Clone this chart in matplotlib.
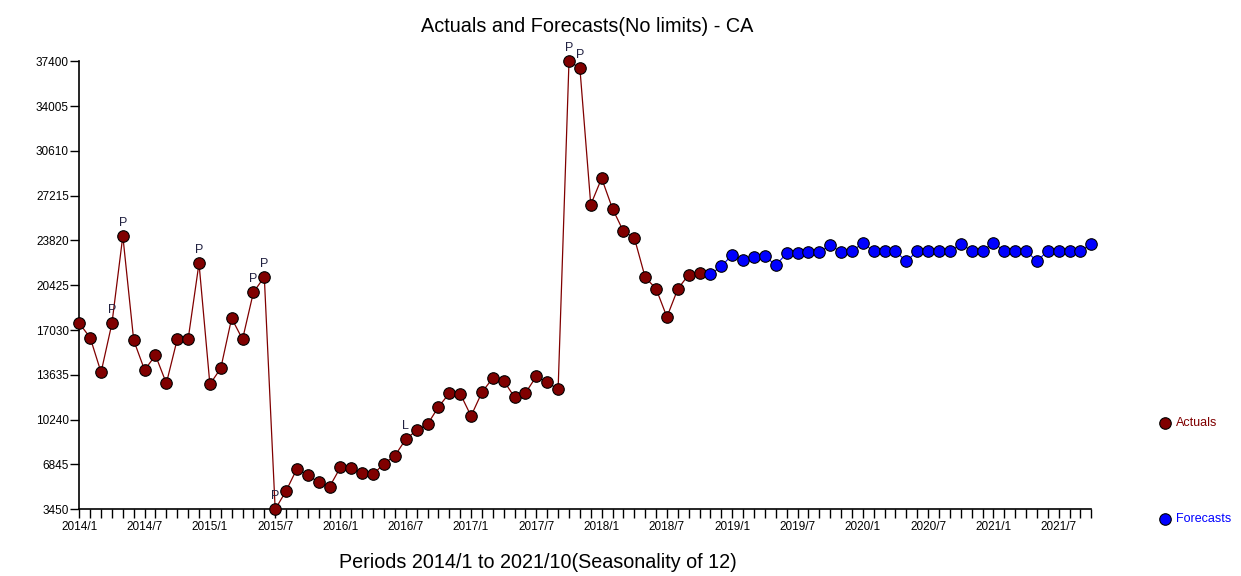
import numpy as np
import matplotlib
matplotlib.use('Agg')
import matplotlib.pyplot as plt

plt.rcParams['font.family'] = ['Liberation Sans', 'DejaVu Sans']

# Monthly periods 2014/1 .. 2021/10
start_year = 2014
n_periods = 94
periods = ['%d/%d' % (start_year + i // 12, i % 12 + 1) for i in range(n_periods)]

# Actuals 2014/1 .. 2018/10
actuals = [17545, 16454, 13832, 17545, 24161, 16257, 14006, 15120, 12998, 16333,
           16333, 22092, 12923, 14135, 17924, 16333, 19894, 21054, 3450, 4837,
           6527, 6027, 5496, 5163, 6633, 6557, 6178, 6102, 6906, 7512,
           8755, 9437, 9891, 11202, 12240, 12215, 10520, 12316, 13400, 13195,
           11937, 12263, 13529, 13074, 12544, 37400, 36892, 26533, 28533, 26229,
           24517, 24032, 21031, 20167, 18023, 20144, 21228, 21334]

# Forecasts 2018/11 .. 2021/10
forecasts = [21258, 21865, 22744, 22365, 22569, 22645, 21940, 22850, 22873, 22925,
             22925, 23479, 22950, 23001, 23630, 23001, 23001, 23001, 22243, 23001,
             23001, 23001, 23001, 23554, 23047, 23047, 23630, 23047, 23047, 23047,
             22243, 23047, 23047, 23047, 23047, 23554]

# point flags (index into actuals, letter)
flag_idx = [3, 4, 11, 16, 17, 18, 30, 45, 46]
flag_txt = ['P', 'P', 'P', 'P', 'P', 'P', 'L', 'P', 'P']

y_ticks = [3450, 6845, 10240, 13635, 17030, 20425, 23820, 27215, 30610, 34005, 37400]


def main():
    fig = plt.figure(figsize=(12.41, 5.76), dpi=100)
    ax = fig.add_axes([0.0639, 0.1158, 0.8155, 0.7778])

    x_act = np.arange(len(actuals))
    x_fc = np.arange(len(actuals), len(actuals) + len(forecasts))

    ax.plot(x_act, actuals, color='#800000', linewidth=0.9, marker='o', markersize=8.3,
            markerfacecolor='#800000', markeredgecolor='black', markeredgewidth=0.8,
            clip_on=False, zorder=3)
    ax.plot(x_fc, forecasts, color='#0000ff', linewidth=0.8, marker='o', markersize=8.3,
            markerfacecolor='#0000ff', markeredgecolor='black', markeredgewidth=0.8,
            clip_on=False, zorder=3)

    for i, t in zip(flag_idx, flag_txt):
        ax.annotate(t, (i, actuals[i]), xytext=(0, 5), textcoords='offset points',
                    ha='center', va='bottom', fontsize=9, color='#202040')

    ax.set_xlim(0, n_periods - 1)
    ax.set_ylim(y_ticks[0], y_ticks[-1])
    ax.set_yticks(y_ticks)
    ax.set_yticklabels([str(v) for v in y_ticks])
    ax.set_xticks(np.arange(n_periods))
    ax.set_xticklabels([p if i % 6 == 0 else '' for i, p in enumerate(periods)])

    for s in ['top', 'right']:
        ax.spines[s].set_visible(False)
    ax.spines['left'].set_linewidth(1.2)
    ax.spines['bottom'].set_linewidth(1.2)
    ax.tick_params(axis='both', direction='out', length=6.5, width=1, labelsize=8.5, pad=1)
    ax.tick_params(axis='x', pad=2)

    fig.text(587 / 1241, 1 - 26 / 576, 'Actuals and Forecasts(No limits) - CA',
             ha='center', va='center', fontsize=14.3)
    fig.text(538 / 1241, 1 - 563 / 576, 'Periods 2014/1 to 2021/10(Seasonality of 12)',
             ha='center', va='center', fontsize=14.2)

    # legend
    fig.lines.append(plt.Line2D([1165 / 1241], [1 - 423 / 576], transform=fig.transFigure,
                                marker='o', markersize=8.3, markerfacecolor='#800000',
                                markeredgecolor='black', markeredgewidth=0.8, linestyle=''))
    fig.text(1176 / 1241, 1 - 423 / 576, 'Actuals', color='#800000', ha='left', va='center', fontsize=9)
    fig.lines.append(plt.Line2D([1165 / 1241], [1 - 519 / 576], transform=fig.transFigure,
                                marker='o', markersize=8.3, markerfacecolor='#0000ff',
                                markeredgecolor='black', markeredgewidth=0.8, linestyle=''))
    fig.text(1176 / 1241, 1 - 519 / 576, 'Forecasts', color='#0000ff', ha='left', va='center', fontsize=9)

    fig.savefig('out.png', dpi=100)


if __name__ == '__main__':
    main()
